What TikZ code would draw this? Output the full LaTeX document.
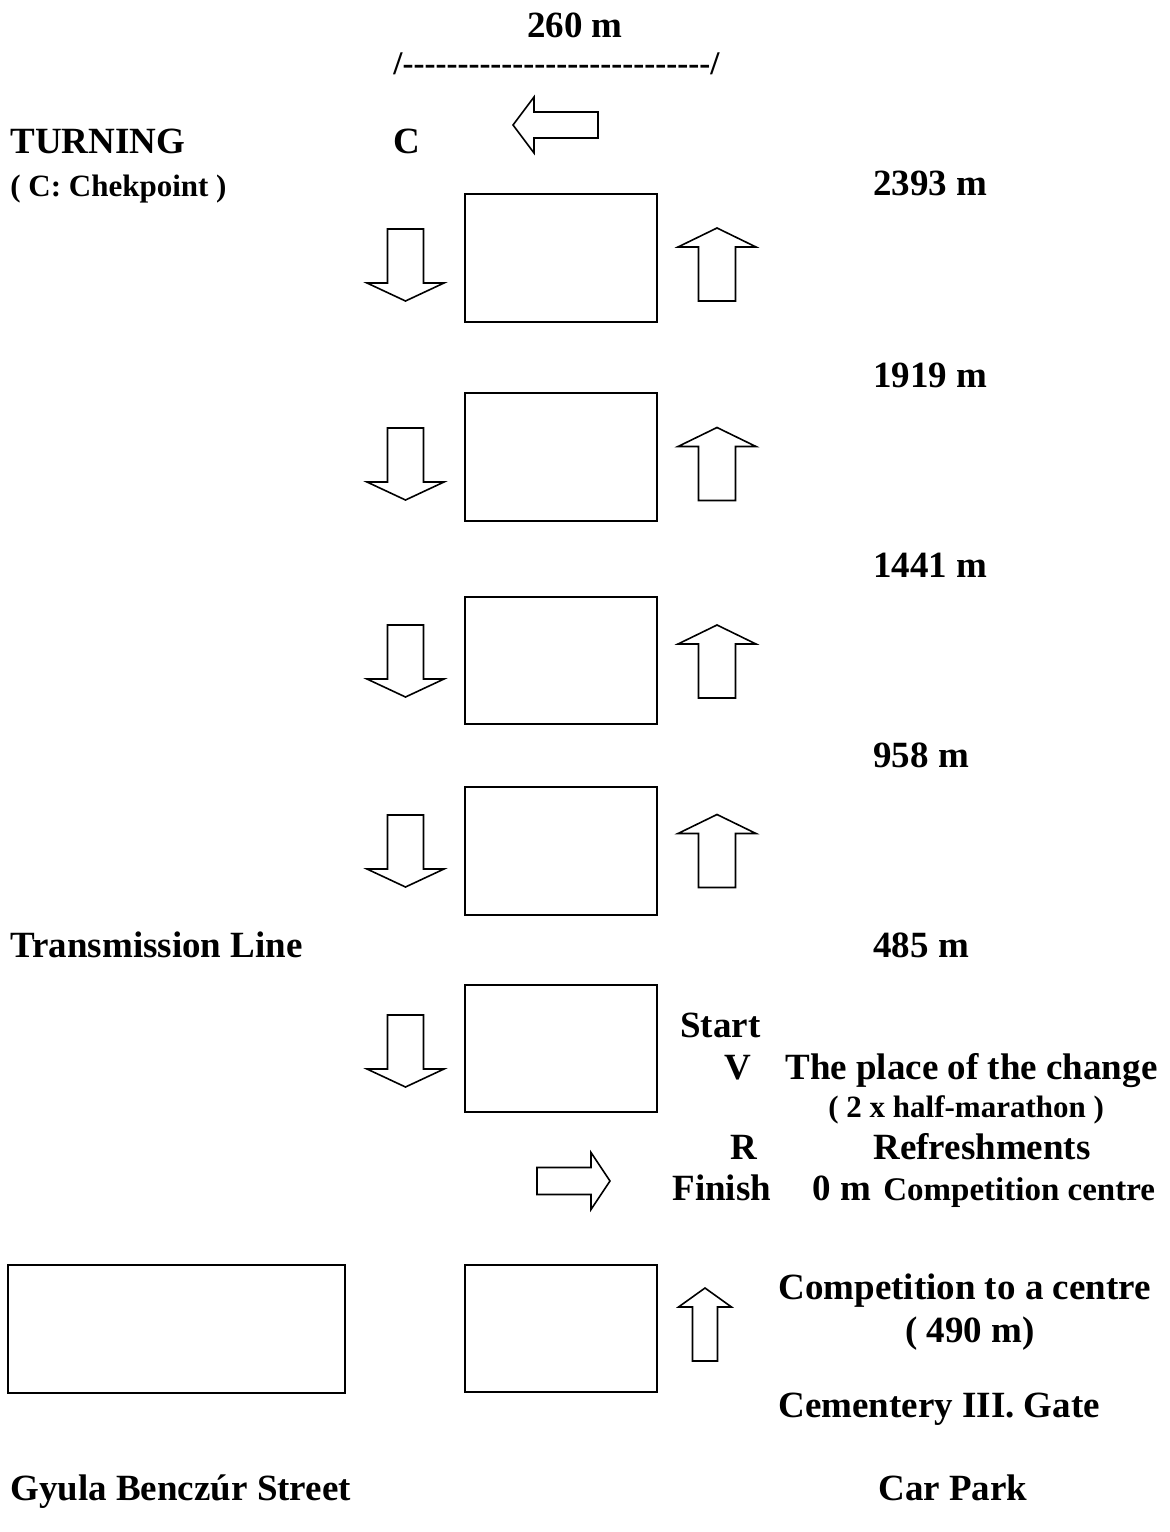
\documentclass[tikz,border=0pt]{standalone}
\usepackage{fontspec}
\setmainfont{Liberation Serif}
\newfontfamily\rulerfont{Liberation Serif}[Ligatures=TeXOff]

\tikzset{
  lbl/.style={anchor=base west,inner sep=0pt,font=\bfseries\fontsize{18.5}{22}\selectfont},
  smalllbl/.style={lbl,font=\bfseries\fontsize{15.5}{18}\selectfont},
  midlbl/.style={lbl,font=\bfseries\fontsize{16.5}{20}\selectfont},
  block/.style={draw,line width=1pt},
  % block arrow pointing along +x: half length, half shaft, half head, head length
  pics/blockarr/.style n args={4}{code={
    \draw[line width=0.8pt,fill=white] (-#1,-#2) -- (#1-#4,-#2) -- (#1-#4,-#3) -- (#1,0)
      -- (#1-#4,#3) -- (#1-#4,#2) -- (-#1,#2) -- cycle;}},
}

\begin{document}
\begin{tikzpicture}[x=0.5pt,y=-0.5pt]
	\useasboundingbox (0,0) rectangle (1169,1532);

	% top: distance and turning point
	\node[lbl,anchor=base] (width) at (575,37) {260 m};
	\node[lbl,font=\rulerfont\bfseries\fontsize{16.5}{20}\selectfont] (ruler) at (393,74) {/----------------------------/};
	\node[lbl] (turning) at (10,153) {TURNING};
	\node[smalllbl] (chk) at (10,196) {( C: Chekpoint )};
	\node[lbl] (cp) at (393,153) {C};
	\pic[rotate=180] at (555.5,125) {blockarr={42.5}{13}{28}{21}};

	% road sections
	\foreach \y/\h in {194/322,393/521,597/724,787/915,985/1112}
		\draw[block] (465,\y) rectangle (657,\h);
	\draw[block] (8,1265) rectangle (345,1393);
	\draw[block] (465,1265) rectangle (657,1392);

	% running directions
	\foreach \y in {265,464,661,851,1051}
		\pic[rotate=-90] at (405.5,\y) {blockarr={36}{18}{38.5}{18}};
	\foreach \y in {264.5,464,661.5,851}
		\pic[rotate=90] at (717,\y) {blockarr={36.5}{18.5}{39}{19}};
	\pic at (573.5,1181) {blockarr={36.5}{13.5}{28.5}{19}};
	\pic[rotate=90] at (705,1324.5) {blockarr={36.5}{12.5}{26.5}{19}};

	% distances
	\node[lbl] (d2393) at (873,195) {2393 m};
	\node[lbl] (d1919) at (873,387) {1919 m};
	\node[lbl] (d1441) at (873,577) {1441 m};
	\node[lbl] (d958) at (873,767) {958 m};
	\node[lbl] (d485) at (873,957) {485 m};
	\node[lbl] (line) at (10,957) {Transmission Line};

	% start / finish area
	\node[lbl] (start) at (680,1037) {Start};
	\node[lbl] (v) at (724,1079) {V};
	\node[lbl] (change) at (785,1079) {The place of the change};
	\node[smalllbl] (half) at (828,1117) {( 2 x half-marathon )};
	\node[lbl] (r) at (730,1159) {R};
	\node[lbl] (refr) at (873,1159) {Refreshments};
	\node[lbl] (finish) at (672,1200) {Finish};
	\node[lbl] (zero) at (812,1200) {0 m};
	\node[midlbl] (centre) at (883,1200) {Competition centre};

	% bottom
	\node[lbl] (tocentre) at (778,1299) {Competition to a centre};
	\node[lbl] (d490) at (905,1342) {( 490 m)};
	\node[lbl] (gate) at (778,1417) {Cementery III. Gate};
	\node[lbl] (street) at (10,1500) {Gyula Benczúr Street};
	\node[lbl] (park) at (878,1500) {Car Park};
\end{tikzpicture}
\end{document}
